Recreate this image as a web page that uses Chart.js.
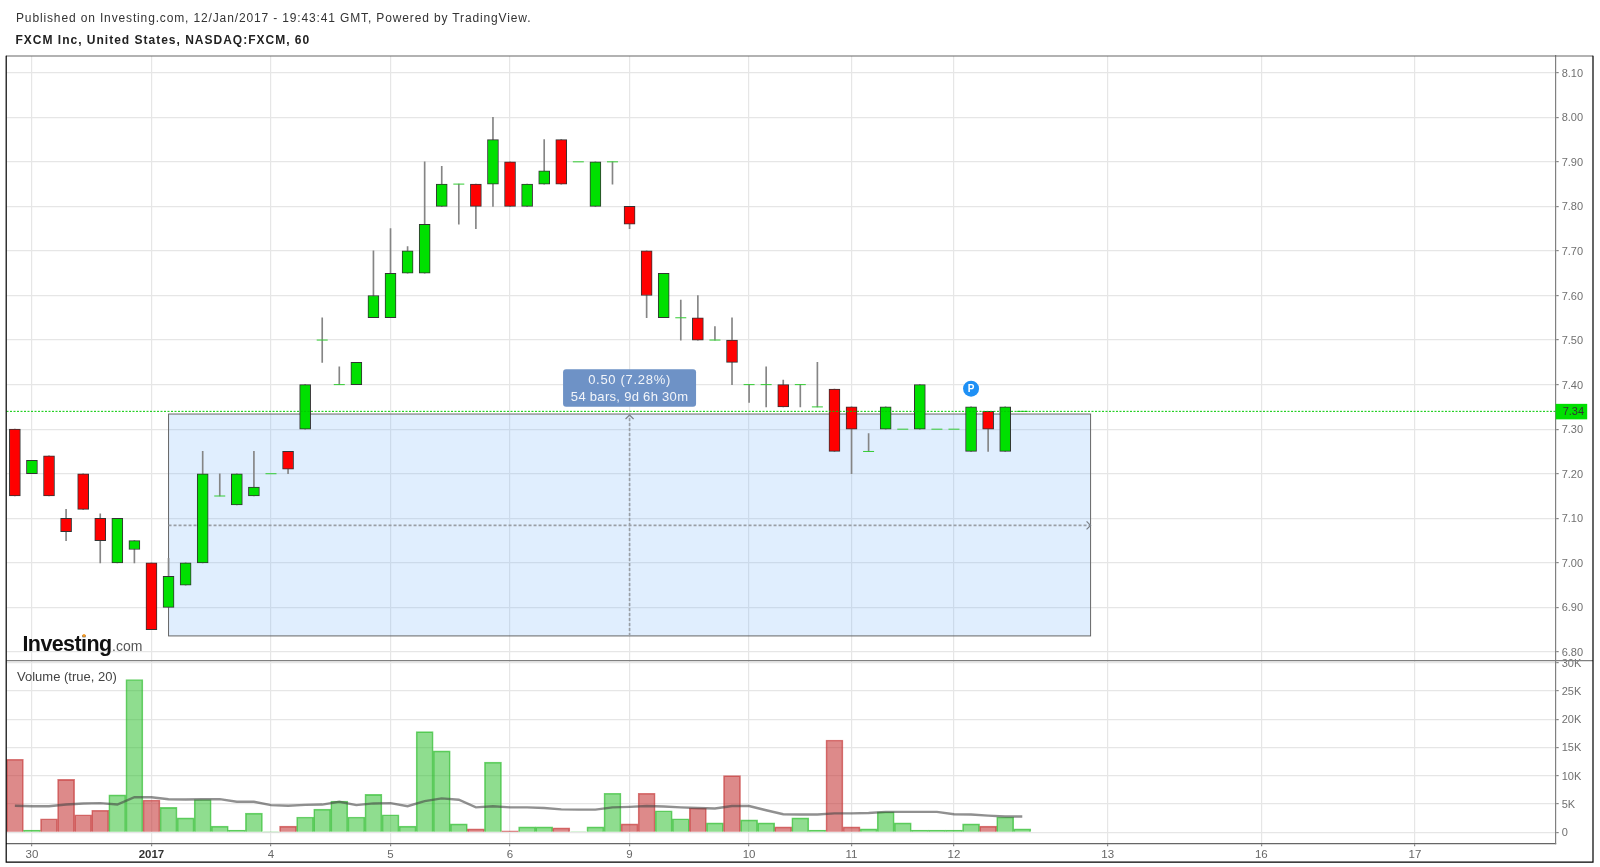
<!DOCTYPE html>
<html>
<head>
<meta charset="utf-8">
<title>FXCM Inc</title>
<script src="https://cdn.jsdelivr.net/npm/chart.js@4"></script>
<style>
html,body{margin:0;padding:0;background:#fff;overflow:hidden}
#wrap{position:relative;width:1600px;height:867px}
canvas{position:absolute;left:0;top:0}
.hd{position:absolute;white-space:nowrap;font-family:"Liberation Sans",Arial,sans-serif;color:#333}
#h1{left:16px;top:10px;font-size:12px;line-height:16px;letter-spacing:.86px}
#h2{left:15.5px;top:32px;font-size:12px;line-height:16px;font-weight:bold;color:#222;letter-spacing:1px}
</style>
</head>
<body>
<div id="wrap">
<canvas id="c" width="1600" height="867"></canvas>
<div class="hd" id="h1">Published on Investing.com, 12/Jan/2017 - 19:43:41 GMT, Powered by TradingView.</div>
<div class="hd" id="h2">FXCM Inc, United States, NASDAQ:FXCM, 60</div>
</div>
<script>
const opens  = [7.30,7.20,7.24,7.10,7.20,7.10,7.00,7.03,7.00,6.90,6.95,7.00,7.15,7.13,7.15,7.20,7.25,7.30,7.50,7.40,7.40,7.55,7.55,7.65,7.65,7.80,7.85,7.85,7.85,7.90,7.80,7.85,7.95,7.90,7.80,7.90,7.80,7.70,7.55,7.55,7.55,7.50,7.50,7.40,7.40,7.40,7.40,7.35,7.39,7.35,7.25,7.30,7.30,7.30,7.30,7.30,7.25,7.34,7.25,7.34];
const highs  = [7.30,7.23,7.24,7.12,7.20,7.11,7.10,7.05,7.00,7.01,7.00,7.25,7.20,7.20,7.25,7.20,7.25,7.40,7.55,7.44,7.45,7.70,7.75,7.71,7.90,7.89,7.85,7.85,8.00,7.90,7.85,7.95,7.95,7.90,7.90,7.90,7.80,7.70,7.65,7.59,7.60,7.53,7.55,7.40,7.44,7.41,7.40,7.45,7.39,7.35,7.29,7.35,7.30,7.40,7.30,7.30,7.35,7.34,7.35,7.34];
const lows   = [7.15,7.20,7.15,7.05,7.12,7.00,7.00,7.00,6.85,6.90,6.95,7.00,7.15,7.13,7.15,7.20,7.20,7.30,7.45,7.40,7.40,7.55,7.55,7.65,7.65,7.80,7.76,7.75,7.80,7.80,7.80,7.85,7.85,7.90,7.80,7.85,7.75,7.55,7.55,7.50,7.50,7.50,7.40,7.36,7.35,7.35,7.35,7.35,7.25,7.20,7.25,7.30,7.30,7.30,7.30,7.30,7.25,7.25,7.25,7.34];
const closes = [7.15,7.23,7.15,7.07,7.12,7.05,7.10,7.05,6.85,6.97,7.00,7.20,7.15,7.20,7.17,7.20,7.21,7.40,7.50,7.40,7.45,7.60,7.65,7.70,7.76,7.85,7.85,7.80,7.95,7.80,7.85,7.88,7.85,7.90,7.90,7.90,7.76,7.60,7.65,7.55,7.50,7.50,7.45,7.40,7.40,7.35,7.40,7.35,7.25,7.30,7.25,7.35,7.30,7.40,7.30,7.30,7.35,7.30,7.35,7.34];
const volumes = [12900,400,2400,9350,3100,3900,6600,27000,5700,4400,2550,5800,1100,400,3400,50,1100,2700,4100,5500,2700,6700,3100,1100,17800,14400,1500,600,12400,250,950,950,770,100,950,6900,1500,6900,3800,2400,4300,1650,10000,2200,1650,950,2550,400,16300,950,600,3600,1650,400,400,400,1500,1100,2700,600];
const volumeMA = [4700,4600,4600,4900,5100,5150,4900,6200,6200,5850,5800,5850,5850,5400,5400,4800,4700,4850,4900,5400,4800,5100,5150,4600,5500,6000,5750,4400,4600,4400,4400,4300,4050,4000,4000,4400,4500,4650,4550,4400,4300,4200,4650,4650,3900,3200,3150,3150,3350,3350,3400,3600,3600,3600,3600,3200,3150,2950,2800,2800];
const dateTickBars = [1,8,15,22,29,36,43,49,55,64,73,82];
const dateTickLabels = ['30','2017','4','5','6','9','10','11','12','13','16','17'];
const priceTicks = [6.80,6.90,7.00,7.10,7.20,7.30,7.40,7.50,7.60,7.70,7.80,7.90,8.00,8.10];
const volumeTicks = [0,5000,10000,15000,20000,25000,30000];
const lastPrice = 7.34;
const rangeStartBar = 9, rangeEndBar = 63, rangeHigh = 7.334, rangeLow = 6.836, rangeMidPrice = 7.084;
const rangeLabelLines = ['0.50 (7.28%)','54 bars, 9d 6h 30m'];
const volumeTitle = 'Volume (true, 20)';
const publishBar = 56;

const GREEN='#00e000', RED='#ff0000';
const bars = opens.map((o,i)=>i);
const isUp = i => closes[i] >= opens[i];
const isDoji = i => opens[i] === closes[i];

const bodyIdx = bars.filter(i=>!isDoji(i));
const wickIdx = bars.filter(i=>highs[i]>lows[i]);
const dojiIdx = bars.filter(isDoji);

const X_FONT='"Liberation Sans",Arial,sans-serif';

const overlay = {
  id:'overlay',
  beforeDatasetsDraw(chart){
    const {ctx,scales:{x,yP}} = chart;
    const l=x.getPixelForValue(rangeStartBar), r=x.getPixelForValue(rangeEndBar);
    const t=yP.getPixelForValue(rangeHigh), b=yP.getPixelForValue(rangeLow);
    ctx.save();
    ctx.fillStyle='rgba(100,170,250,.2)';
    ctx.fillRect(l,t,r-l,b-t);
    ctx.strokeStyle='#666'; ctx.lineWidth=1;
    ctx.strokeRect(l,t,r-l,b-t);
    const my=yP.getPixelForValue(rangeMidPrice), mx=x.getPixelForValue((rangeStartBar+rangeEndBar)/2);
    ctx.strokeStyle='#9a9fa6'; ctx.lineWidth=1.6; ctx.setLineDash([3,2]);
    ctx.beginPath(); ctx.moveTo(l,my); ctx.lineTo(r,my); ctx.moveTo(mx,b); ctx.lineTo(mx,t); ctx.stroke();
    ctx.setLineDash([]);
    ctx.strokeStyle='#7a7f86'; ctx.lineWidth=1.2;
    ctx.beginPath();
    ctx.moveTo(r-4,my-4); ctx.lineTo(r,my); ctx.lineTo(r-4,my+4);
    ctx.moveTo(mx-4,t+5); ctx.lineTo(mx,t+1); ctx.lineTo(mx+4,t+5);
    ctx.stroke();
    ctx.restore();
  },
  afterDraw(chart){
    const {ctx,chartArea:a,scales:{x,yP,yV}} = chart;
    ctx.save();
    // last price line
    const py=yP.getPixelForValue(lastPrice);
    ctx.strokeStyle='#00c800'; ctx.lineWidth=1; ctx.setLineDash([2,1.5]);
    ctx.beginPath(); ctx.moveTo(a.left,py); ctx.lineTo(a.right,py); ctx.stroke();
    ctx.setLineDash([]);
    ctx.fillStyle=GREEN; ctx.fillRect(a.right,py-7.5,31.5,15.5);
    ctx.fillStyle='#333'; ctx.font='11px '+X_FONT; ctx.textAlign='left'; ctx.textBaseline='middle';
    ctx.fillText(lastPrice.toFixed(2),a.right+7,py+0.5);
    // range label
    const mx=x.getPixelForValue((rangeStartBar+rangeEndBar)/2);
    const lw=133, lh=37.5, lx=mx-lw/2, ly=369.3;
    ctx.fillStyle='#6e92c6';
    ctx.beginPath(); ctx.roundRect(lx,ly,lw,lh,3); ctx.fill();
    ctx.fillStyle='#f2f5fa'; ctx.textAlign='center'; ctx.font='13px '+X_FONT;
    ctx.letterSpacing='0.7px';
    ctx.fillText(rangeLabelLines[0],lx+lw/2,ly+11);
    ctx.letterSpacing='0.3px';
    ctx.fillText(rangeLabelLines[1],lx+lw/2,ly+28);
    ctx.letterSpacing='0px';
    // publish marker
    const cx=x.getPixelForValue(publishBar);
    ctx.fillStyle='#1e90f5'; ctx.beginPath(); ctx.arc(cx,388.7,8,0,Math.PI*2); ctx.fill();
    ctx.fillStyle='#fff'; ctx.font='bold 10px '+X_FONT; ctx.fillText('P',cx,389);
    // logo
    ctx.textAlign='left'; ctx.textBaseline='alphabetic';
    ctx.fillStyle='#111'; ctx.font='bold 21.5px '+X_FONT;
    ctx.letterSpacing='-0.6px';
    ctx.fillText('Investing',22.5,651);
    ctx.letterSpacing='0px';
    ctx.fillStyle='#555'; ctx.font='14px '+X_FONT;
    ctx.fillText('.com',112,651);
    ctx.fillStyle='#f59a23'; ctx.beginPath(); ctx.arc(84,635.5,1.6,0,Math.PI*2); ctx.fill();
    // indicator title
    ctx.fillStyle='#444'; ctx.font='13px '+X_FONT; ctx.textBaseline='middle';
    ctx.fillText(volumeTitle,17,677.5);
    // pane divider and frame
    ctx.strokeStyle='#808080'; ctx.lineWidth=1.2;
    ctx.beginPath(); ctx.moveTo(a.left,yP.bottom); ctx.lineTo(1593,yP.bottom); ctx.stroke();
    ctx.strokeStyle='#666'; ctx.beginPath(); ctx.moveTo(6,56); ctx.lineTo(1593,56); ctx.stroke();
    ctx.strokeStyle='#000'; ctx.lineWidth=1.2;
    ctx.beginPath(); ctx.moveTo(6.2,55.7); ctx.lineTo(6.2,862.2); ctx.lineTo(1593,862.2); ctx.lineTo(1593,55.7); ctx.stroke();
    ctx.restore();
  }
};

new Chart(document.getElementById('c'),{
  plugins:[overlay],
  data:{datasets:[
    {type:'bar',label:'Wick',yAxisID:'yP',xAxisID:'x',order:3,grouped:false,barThickness:1,
     backgroundColor:'#858585',borderWidth:0,
     data:wickIdx.map(i=>({x:i,y:[lows[i],highs[i]]}))},
    {type:'bar',label:'FXCM',yAxisID:'yP',xAxisID:'x',order:2,grouped:false,barThickness:11,
     backgroundColor:bodyIdx.map(i=>isUp(i)?GREEN:RED),borderColor:'#333',borderWidth:1,borderSkipped:false,
     data:bodyIdx.map(i=>({x:i,y:[opens[i],closes[i]]}))},
    {type:'line',label:'Flat',yAxisID:'yP',xAxisID:'x',order:1,showLine:false,
     pointStyle:'line',pointRadius:5.5,pointBorderColor:'#33cc33',pointBorderWidth:1,
     data:dojiIdx.map(i=>({x:i,y:closes[i]}))},
    {type:'bar',label:'Volume',yAxisID:'yV',xAxisID:'x',order:5,grouped:false,barThickness:17.08,
     backgroundColor:bars.map(i=>isUp(i)?'rgba(40,190,40,.52)':'rgba(195,50,50,.57)'),
     borderColor:bars.map(i=>isUp(i)?'rgba(50,190,50,.7)':'rgba(200,60,60,.7)'),
     borderWidth:1,
     data:bars.map(i=>({x:i,y:volumes[i]}))},
    {type:'line',label:'Volume MA',yAxisID:'yV',xAxisID:'x',order:4,
     borderColor:'rgba(70,70,70,.6)',borderWidth:2.4,pointRadius:0,tension:0,
     data:bars.map(i=>({x:i,y:volumeMA[i]}))}
  ]},
  options:{
    responsive:false,animation:false,devicePixelRatio:1,
    layout:{padding:{left:6.2,top:56,right:7,bottom:3.7}},
    plugins:{legend:{display:false},tooltip:{enabled:false},title:{display:false}},
    scales:{
      x:{type:'linear',min:-0.49,max:90.24,position:'bottom',offset:false,
        afterFit:s=>{s.height=20},
        afterBuildTicks:s=>{s.ticks=dateTickBars.map(v=>({value:v}))},
        border:{color:'#666',width:1.2},
        grid:{offset:false,color:'#e6e6e6',lineWidth:1.2,tickColor:'#888',tickLength:3},
        ticks:{autoSkip:false,maxRotation:0,padding:2,
          color:c=>c.index===1?'#333':'#666',
          font:c=>({family:X_FONT,size:11.5,weight:c.index===1?'bold':'normal'}),
          callback:(v,i)=>dateTickLabels[i]}
      },
      yP:{type:'linear',position:'right',stack:'panes',stackWeight:604.7,min:6.7804,max:8.1375,weight:1,
        afterFit:s=>{s.width=37.3},
        afterBuildTicks:s=>{s.ticks=priceTicks.map(v=>({value:v}))},
        border:{color:'#808080',width:1.2},
        grid:{color:'#e6e6e6',lineWidth:1.2,tickColor:'#888',tickLength:3},
        ticks:{autoSkip:false,padding:3,labelOffset:1,color:'#707070',font:{family:X_FONT,size:11},callback:v=>v.toFixed(2)}
      },
      yV:{type:'linear',position:'right',stack:'panes',stackWeight:182.6,min:-1945,max:30320,weight:2,
        afterFit:s=>{s.width=37.3},
        afterBuildTicks:s=>{s.ticks=volumeTicks.map(v=>({value:v}))},
        border:{color:'#808080',width:1.2},
        grid:{color:'#e6e6e6',lineWidth:1.2,tickColor:'#888',tickLength:3},
        ticks:{autoSkip:false,padding:3,labelOffset:1,color:'#707070',font:{family:X_FONT,size:11},callback:v=>v?(v/1000)+'K':'0'}
      }
    }
  }
});
</script>
</body>
</html>
